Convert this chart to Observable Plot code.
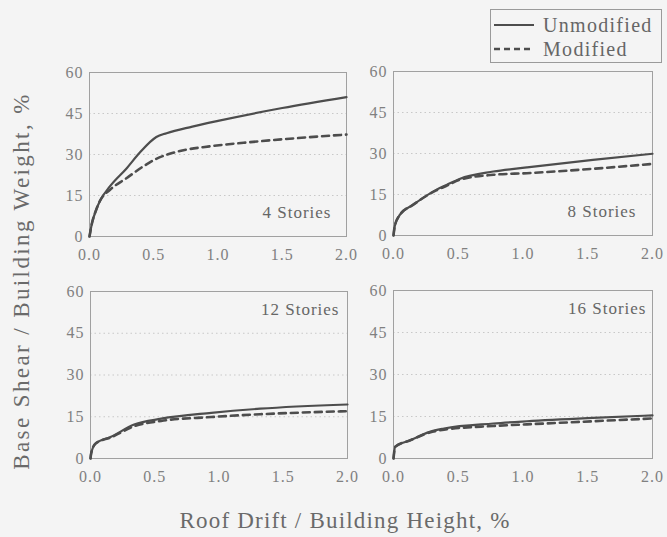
<!DOCTYPE html>
<html>
<head>
<meta charset="utf-8">
<script src="https://cdn.jsdelivr.net/npm/d3@7"></script>
<script src="https://cdn.jsdelivr.net/npm/@observablehq/plot@0.6"></script>
<style>
  html, body { margin: 0; padding: 0; background: #f4f4f4; }
  #wrap { position: relative; width: 667px; height: 537px; overflow: hidden; background: #f4f4f4; font-family: "Liberation Serif", "DejaVu Serif", serif; }
  #wrap svg, #wrap svg text { font-family: "Liberation Serif", "DejaVu Serif", serif !important; }
  .panel { position: absolute; letter-spacing: 1px; }
  .title { position: absolute; color: #6a6a6a; font-size: 23px; white-space: nowrap; }
  #legend { position: absolute; left: 490px; top: 9px; width: 172px; height: 54px; border: 1px solid #9a9a9a; box-sizing: border-box; }
  #legend text { letter-spacing: 1.3px; }
</style>
</head>
<body>
<div id="wrap"></div>
<script>
// ---- data ----
const panelLabels = ["4 Stories", "8 Stories", "12 Stories", "16 Stories"];
const seriesNames = ["Unmodified", "Modified"];
const xTicks = [0, 0.5, 1.0, 1.5, 2.0];
const yTicks = [0, 15, 30, 45, 60];
const gridValues = [15, 30, 45];

const drift4U = [0, 0.02, 0.05, 0.08, 0.16, 0.29, 0.39, 0.52, 0.6, 0.8, 1.0, 1.5, 2.0];
const shear4U = [0, 5, 9.5, 12.9, 18.4, 25, 30.6, 36.4, 37.8, 40.2, 42.3, 47, 51];
const drift4M = [0, 0.02, 0.05, 0.08, 0.16, 0.29, 0.42, 0.52, 0.68, 0.94, 1.2, 1.59, 2.0];
const shear4M = [0, 5, 9.5, 12.9, 17.1, 21.4, 25.7, 28.4, 31, 33, 34.3, 35.9, 37.3];

const drift8 = [0, 0.01, 0.05, 0.15, 0.33, 0.41, 0.51, 0.77, 1.03, 1.54, 2.0];
const shear8U = [0, 3.5, 7.6, 11.2, 16.7, 18.5, 20.7, 23.4, 24.9, 27.7, 29.9];
const shear8M = [0, 3.5, 7.6, 11.2, 16.5, 18.2, 20.4, 22.2, 22.8, 24.4, 26.2];

const drift12 = [0, 0.005, 0.04, 0.16, 0.34, 0.55, 0.94, 1.32, 2.0];
const shear12U = [0, 1.8, 5.4, 7.8, 12.2, 14.3, 16.4, 17.9, 19.4];
const shear12M = [0, 1.8, 5.4, 7.6, 11.6, 13.5, 14.9, 15.9, 17.0];

const drift16 = [0, 0.013, 0.13, 0.28, 0.39, 0.77, 1.03, 1.54, 2.0];
const shear16U = [0, 4.2, 6.5, 9.5, 10.7, 12.5, 13.3, 14.5, 15.4];
const shear16M = [0, 4.2, 6.5, 9.3, 10.3, 11.6, 12.2, 13.3, 14.3];

const toRows = (xs, ys) => xs.map((x, i) => ({x, y: ys[i]}));

const panels = [
  {label: panelLabels[0], u: toRows(drift4U, shear4U), m: toRows(drift4M, shear4M),
   frame: [89, 72, 346, 236], anchor: "bottom-right", dx: -15, dy: -19},
  {label: panelLabels[1], u: toRows(drift8, shear8U), m: toRows(drift8, shear8M),
   frame: [393, 71, 652, 235], anchor: "bottom-right", dx: -16, dy: -19},
  {label: panelLabels[2], u: toRows(drift12, shear12U), m: toRows(drift12, shear12M),
   frame: [90, 291, 347, 458], anchor: "top-right", dx: -8, dy: 11},
  {label: panelLabels[3], u: toRows(drift16, shear16U), m: toRows(drift16, shear16M),
   frame: [393, 290, 652, 458], anchor: "top-right", dx: -6, dy: 11}
];

const wrap = document.getElementById("wrap");
const ML = 40, MT = 12, MR = 15, MB = 32;
const lineColor = "#4d4d4d";

for (const p of panels) {
  const [L, T, R, B] = p.frame;
  const chart = Plot.plot({
    width: R - L + ML + MR,
    height: B - T + MT + MB,
    marginLeft: ML, marginTop: MT, marginRight: MR, marginBottom: MB,
    style: {background: "transparent", fontFamily: "'Liberation Serif', serif", fontSize: "16px", color: "#808080", overflow: "visible"},
    x: {domain: [0, 2], ticks: xTicks, tickFormat: d3.format(".1f"), tickSize: 0, tickPadding: 12, label: null},
    y: {domain: [0, 60], ticks: yTicks, tickSize: 0, tickPadding: 6, label: null},
    marks: [
      Plot.ruleY(gridValues, {stroke: "#c8c8c8", strokeDasharray: "1.5,3"}),
      Plot.frame({stroke: "#a0a0a0", strokeWidth: 1}),
      Plot.line(p.m, {x: "x", y: "y", stroke: lineColor, strokeWidth: 2.6, strokeDasharray: "7,5", curve: "monotone-x"}),
      Plot.line(p.u, {x: "x", y: "y", stroke: lineColor, strokeWidth: 2.2, curve: "monotone-x"}),
      Plot.text([p.label], {frameAnchor: p.anchor, dx: p.dx, dy: p.dy, text: d => d, fontSize: 17, fill: "#666"})
    ]
  });
  chart.classList.add("panel");
  chart.style.left = (L - ML) + "px";
  chart.style.top = (T - MT) + "px";
  wrap.appendChild(chart);
}

// axis titles
const yTitle = document.createElement("div");
yTitle.className = "title";
yTitle.textContent = "Base Shear / Building Weight, %";
yTitle.style.left = "22px";
yTitle.style.top = "281px";
yTitle.style.letterSpacing = "2.4px";
yTitle.style.transform = "translate(-50%, -50%) rotate(-90deg)";
wrap.appendChild(yTitle);

const xTitle = document.createElement("div");
xTitle.className = "title";
xTitle.textContent = "Roof Drift / Building Height, %";
xTitle.style.left = "345px";
xTitle.style.top = "521px";
xTitle.style.letterSpacing = "1.2px";
xTitle.style.transform = "translate(-50%, -50%)";
wrap.appendChild(xTitle);

// legend
const legend = document.createElement("div");
legend.id = "legend";
const ns = "http://www.w3.org/2000/svg";
const lsvg = document.createElementNS(ns, "svg");
lsvg.setAttribute("width", 170);
lsvg.setAttribute("height", 52);
const dashes = [null, "6,4"];
seriesNames.forEach((name, i) => {
  const yy = 15 + i * 24;
  const ln = document.createElementNS(ns, "line");
  ln.setAttribute("x1", 3); ln.setAttribute("x2", 43);
  ln.setAttribute("y1", yy); ln.setAttribute("y2", yy);
  ln.setAttribute("stroke", lineColor);
  ln.setAttribute("stroke-width", i ? 2.6 : 2.2);
  if (dashes[i]) ln.setAttribute("stroke-dasharray", dashes[i]);
  lsvg.appendChild(ln);
  const tx = document.createElementNS(ns, "text");
  tx.setAttribute("x", 52); tx.setAttribute("y", yy);
  tx.setAttribute("dy", "0.35em");
  tx.setAttribute("font-size", 20);
  tx.setAttribute("fill", "#666");
  tx.textContent = name;
  lsvg.appendChild(tx);
});
legend.appendChild(lsvg);
wrap.appendChild(legend);
</script>
</body>
</html>
